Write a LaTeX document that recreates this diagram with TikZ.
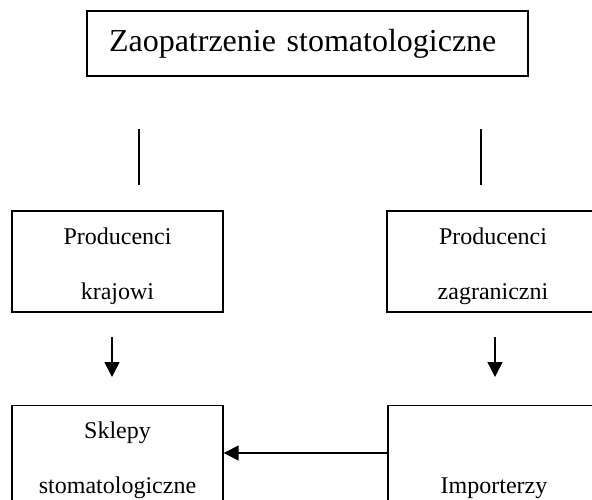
\documentclass[tikz,border=0pt]{standalone}
\usepackage{fontspec}
\setmainfont{Liberation Serif}
\usetikzlibrary{arrows.meta}
% two text lines with a fixed baseline distance inside a box
\newcommand\boxlines[2]{\rule{0pt}{26pt}#1\\#2\rule[-5.2pt]{0pt}{5.2pt}}
\begin{document}
\begin{tikzpicture}[x=1pt,y=-1pt,
  box/.style={draw, line width=1.4pt, inner sep=0pt, align=center,
    font=\fontsize{24}{55}\selectfont},
  plain/.style={line width=1.8pt},
  arr/.style={line width=1.5pt, -{Triangle[width=15pt,length=15pt]}}]
\clip (0,0) rectangle (592,500);
\fill[white] (0,0) rectangle (592,500);

% title
\node[draw, line width=1.4pt, inner xsep=0pt, inner ysep=0pt,
  minimum width=441pt, minimum height=65pt, text width=397pt, align=left,
  text height=22pt, text depth=5pt, font=\fontsize{32}{38}\selectfont]
  (title) at (307.5,43.5) {Zaopatrzenie stomatologiczne};

% producers
\node[box, minimum width=211pt, minimum height=101pt] (dom) at (117.5,261.5)
  {\boxlines{Producenci}{krajowi}};
\node[box, minimum width=212pt, minimum height=101pt] (abr) at (493,261.5)
  {\boxlines{Producenci}{zagraniczni}};

% shops and importers
\node[box, minimum width=211pt, minimum height=101pt] (shop) at (117.5,456)
  {\boxlines{Sklepy}{stomatologiczne}};
\node[box, minimum width=212pt, minimum height=101pt] (imp) at (494,456)
  {\boxlines{}{Importerzy}};

% free-standing strokes
\coordinate (l1a) at (139,129);  \coordinate (l1b) at (139,185);
\coordinate (l2a) at (481,129);  \coordinate (l2b) at (481,185);
\draw[plain] (l1a) -- (l1b);
\draw[plain] (l2a) -- (l2b);

\coordinate (d1a) at (112,337);  \coordinate (d1b) at (112,377);
\coordinate (d2a) at (495,337);  \coordinate (d2b) at (495,377);
\draw[arr] (d1a) -- (d1b);
\draw[arr] (d2a) -- (d2b);

% importers supply the shops
\draw[arr] (imp.west |- 0,453) -- (shop.east |- 0,453);
\end{tikzpicture}
\end{document}
